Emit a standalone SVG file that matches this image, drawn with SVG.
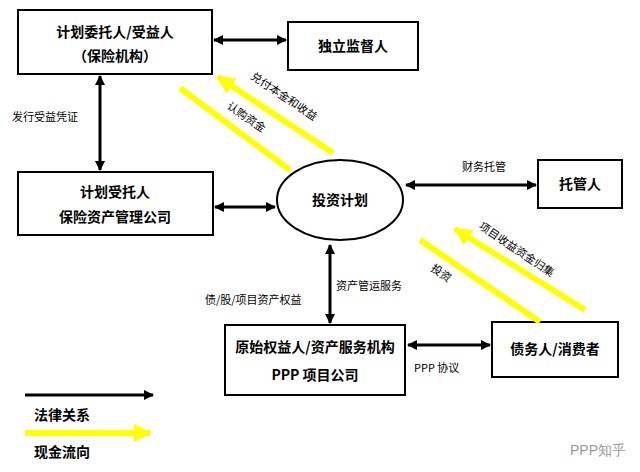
<svg xmlns="http://www.w3.org/2000/svg" width="640" height="472" viewBox="0 0 640 472">
<style>
.b{fill:#fff;stroke:#000;stroke-width:2}
.t{font-family:"Noto Sans CJK SC",sans-serif;font-size:14px;font-weight:bold;fill:#000;text-anchor:middle}
.s{font-family:"Noto Sans CJK SC",sans-serif;font-size:11px;fill:#000}
.k{stroke:#000;stroke-width:3;fill:none}
.y{stroke:#ffff00;stroke-width:6;fill:none}
</style>
<defs>
<marker id="a" viewBox="0 0 10 10" refX="9" refY="5" markerWidth="3.5" markerHeight="3.5" orient="auto-start-reverse"><path d="M0,0L10,5L0,10z" fill="#000"/></marker>
<marker id="ya" viewBox="0 0 10 10" refX="9" refY="5" markerWidth="3" markerHeight="3" orient="auto-start-reverse"><path d="M0,0L10,5L0,10z" fill="#ffff00"/></marker>
</defs>
<rect width="640" height="472" fill="#fff"/>
<g id="n1"><rect class="b" x="18" y="10" width="194" height="64"/><text class="t" x="115" y="37">计划委托人/受益人</text><text class="t" x="115" y="61">（保险机构）</text></g>
<g id="n2"><rect class="b" x="288" y="22" width="130" height="48"/><text class="t" x="353" y="51">独立监督人</text></g>
<g id="n3"><rect class="b" x="18" y="172" width="195" height="63"/><text class="t" x="115" y="197">计划受托人</text><text class="t" x="115" y="222">保险资产管理公司</text></g>
<g id="n4"><rect class="b" x="538" y="160" width="84" height="48"/><text class="t" x="580" y="189">托管人</text></g>
<g id="n5"><rect class="b" x="225" y="325" width="180" height="70"/><text class="t" x="315" y="352">原始权益人/资产服务机构</text><text class="t" x="315" y="380">PPP 项目公司</text></g>
<g id="n6"><rect class="b" x="492" y="322" width="126" height="55"/><text class="t" x="555" y="354">债务人/消费者</text></g>
<g id="n7"><ellipse class="b" cx="340" cy="200" rx="63" ry="40"/><text class="t" x="340" y="205">投资计划</text></g>
<g id="edges">
<line class="k" x1="214" y1="40" x2="286" y2="40" marker-start="url(#a)" marker-end="url(#a)"/>
<line class="k" x1="100" y1="76" x2="100" y2="170" marker-start="url(#a)" marker-end="url(#a)"/>
<line class="k" x1="215" y1="207" x2="275" y2="207" marker-start="url(#a)" marker-end="url(#a)"/>
<line class="k" x1="406" y1="185" x2="536" y2="185" marker-start="url(#a)" marker-end="url(#a)"/>
<line class="k" x1="330" y1="245" x2="330" y2="323" marker-start="url(#a)" marker-end="url(#a)"/>
<line class="k" x1="408" y1="345" x2="490" y2="345" marker-start="url(#a)" marker-end="url(#a)"/>
<line class="y" x1="333" y1="153" x2="218" y2="77" marker-end="url(#ya)"/>
<line class="y" x1="180" y1="88" x2="290" y2="170"/>
<line class="y" x1="585" y1="310" x2="455" y2="229" marker-end="url(#ya)"/>
<line class="y" x1="420" y1="240" x2="540" y2="322"/>
<text class="s" transform="translate(250,78) rotate(34)">兑付本金和收益</text>
<text class="s" transform="translate(226,108) rotate(34)">认购资金</text>
<text class="s" transform="translate(478,228) rotate(34)">项目收益资金归集</text>
<text class="s" transform="translate(430,270) rotate(34)">投资</text>
<text class="s" x="12" y="121">发行受益凭证</text>
<text class="s" x="462" y="171">财务托管</text>
<text class="s" x="336" y="290">资产管运服务</text>
<text class="s" x="205" y="304">债/股/项目资产权益</text>
<text class="s" x="414" y="372">PPP 协议</text>
</g>
<g id="legend">
<line class="k" x1="25" y1="395" x2="153" y2="395" marker-end="url(#a)"/>
<text class="t" x="62" y="420">法律关系</text>
<line class="y" x1="25" y1="433" x2="150" y2="433" marker-end="url(#ya)"/>
<text class="t" x="62" y="457">现金流向</text>
<text x="570" y="455" font-family="Liberation Sans,sans-serif" font-size="14" fill="#999">PPP知乎</text>
</g>
</svg>
